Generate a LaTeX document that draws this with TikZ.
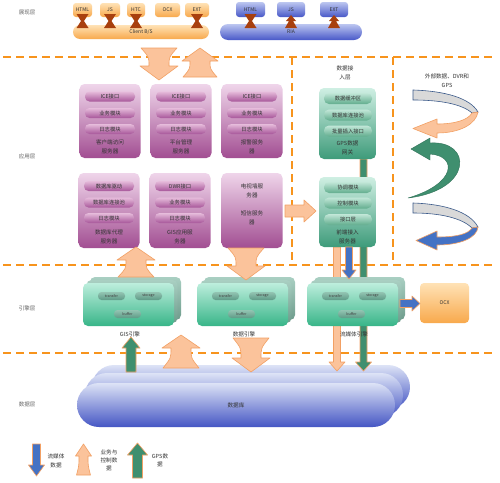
\documentclass[tikz,border=0pt]{standalone}
\usepackage{fontspec}
\setmainfont{Noto Sans CJK SC}
\usetikzlibrary{calc}
\definecolor{dashor}{HTML}{F7941D}
\definecolor{peach}{HTML}{FBC39B}
\definecolor{peachL}{HTML}{F2A064}
\definecolor{garrow}{HTML}{3F8F6F}
\definecolor{barrow}{HTML}{4472C4}
\definecolor{purT}{HTML}{EFD5EA}
\definecolor{purB}{HTML}{A24E92}
\definecolor{ppT}{HTML}{E6BCDB}
\definecolor{ppB}{HTML}{A8579A}
\definecolor{grT}{HTML}{CFEFE3}
\definecolor{grB}{HTML}{3E9B7A}
\definecolor{gpT}{HTML}{C2E7D8}
\definecolor{gpB}{HTML}{62AD8E}
\definecolor{enT}{HTML}{BDEEDD}
\definecolor{enB}{HTML}{38B588}
\definecolor{ebT}{HTML}{A9CFC2}
\definecolor{ebB}{HTML}{6E9C8C}
\definecolor{epT}{HTML}{93C4B2}
\definecolor{epB}{HTML}{5E9A86}
\definecolor{orT}{HTML}{FFE2B6}
\definecolor{orB}{HTML}{F8A94C}
\definecolor{blT}{HTML}{BCC6F0}
\definecolor{blB}{HTML}{4858C8}
\definecolor{dbT}{HTML}{DDE3F6}
\definecolor{dbB}{HTML}{4556C4}
\definecolor{brownC}{HTML}{A8400F}
\definecolor{grayR}{HTML}{D9D9D9}
\definecolor{grayL}{HTML}{3B5A8A}
\newcommand\vfat[6]{%
  \path[#1] let \p1=(#2), \p2=(#3), \n1={ifthenelse(\y2>\y1,1,-1)}, \n2={\y2-\n1*#6} in
  ({\x1-#4},\y1) -- ({\x1-#4},{\n2*1pt}) -- ({\x1-#5},{\n2*1pt}) -- (\x1,\y2)
  -- ({\x1+#5},{\n2*1pt}) -- ({\x1+#4},{\n2*1pt}) -- ({\x1+#4},\y1) -- cycle;}
\newcommand\vfir[6]{%
  \path[#1] let \p1=(#2), \p2=(#3), \n1={ifthenelse(\y2>\y1,1,-1)}, \n2={\y2-\n1*#6}, \n3={(\y1+\n2)/2} in
  ({\x1-#5+1},\y1) .. controls ({\x1-#4},{\n3*1pt}) .. ({\x1-#4},{\n2*1pt}) -- ({\x1-#5},{\n2*1pt}) -- (\x1,\y2)
  -- ({\x1+#5},{\n2*1pt}) -- ({\x1+#4},{\n2*1pt}) .. controls ({\x1+#4},{\n3*1pt}) .. ({\x1+#5-1},\y1) -- cycle;}
\newcommand\hfat[6]{%
  \path[#1] let \p1=(#2), \p2=(#3), \n1={ifthenelse(\x2>\x1,1,-1)}, \n2={\x2-\n1*#6} in
  (\x1,{\y1-#4}) -- ({\n2*1pt},{\y1-#4}) -- ({\n2*1pt},{\y1-#5}) -- (\x2,\y1)
  -- ({\n2*1pt},{\y1+#5}) -- ({\n2*1pt},{\y1+#4}) -- (\x1,{\y1+#4}) -- cycle;}
\newcommand\bowtiec[1]{%
  \fill[brownC, shift={(#1.south)}] (-6,-3) -- (6,-3) -- (1.5,4) -- (6,11) -- (-6,11) -- (-1.5,4) -- cycle;}
\newcommand\firup[1]{%
  \fill[brownC, shift={(#1.south)}] (0,-2) -- (5,4) -- (2,4) -- (6,11) -- (-6,11) -- (-2,4) -- (-5,4) -- cycle;}
\newcommand\engine[3]{%
  \node[engback] (#1b2) at ({#2+52.5},298.5) {};
  \node[engback] (#1b1) at ({#2+49},301.5) {};
  \node[engfront] (#1) at ({#2+45.5},304.5) {};
  \node[epill] (#1t) at ({#2+28.5},296) {transfer};
  \node[epill] (#1s) at ({#2+65.5},296) {storage};
  \node[epill] (#1u) at ({#2+44.5},314) {buffer};
  \node[txt] (#1l) at ({#2+47},334) {#3};}
\begin{document}
\begin{tikzpicture}[x=1pt,y=-1pt,
  every node/.style={inner sep=0pt, outer sep=0pt},
  lbl/.style={font=\fontsize{5.5}{7}\selectfont, text=black!60},
  txt/.style={font=\fontsize{5.6}{9}\selectfont, text=black!80, align=center},
  obox/.style={rounded corners=3pt, top color=orT, bottom color=orB, minimum height=14pt, font=\fontsize{5}{6}\selectfont, text=black!80},
  bbox/.style={rounded corners=3pt, top color=blT, bottom color=blB, minimum height=15pt, font=\fontsize{5}{6}\selectfont, text=black!80},
  pbox/.style={rounded corners=5pt, top color=purT, bottom color=purB, minimum width=61pt},
  ppill/.style={rounded corners=4.5pt, top color=ppT, bottom color=ppB, minimum width=50pt, minimum height=10pt, font=\fontsize{5.3}{6}\selectfont, text=black!80},
  gbox/.style={rounded corners=5pt, top color=grT, bottom color=grB, minimum width=57pt},
  gpill/.style={rounded corners=5pt, top color=gpT, bottom color=gpB, minimum width=48pt, minimum height=11pt, font=\fontsize{5.3}{6}\selectfont, text=black!80},
  engback/.style={rounded corners=5pt, top color=ebT, bottom color=ebB, minimum width=91pt, minimum height=43pt},
  engfront/.style={rounded corners=5pt, top color=enT, bottom color=enB, minimum width=91pt, minimum height=43pt},
  epill/.style={rounded corners=3.5pt, top color=epT, bottom color=epB, minimum width=27pt, minimum height=8pt, font=\fontsize{3.6}{4}\selectfont, text=black!75},
  dbl/.style={rounded corners=22pt, top color=dbT, bottom color=dbB, minimum height=44pt, minimum width=318pt},
  dashl/.style={draw=dashor, line width=2.8pt, dash pattern=on 7.5pt off 5.5pt},
  peachA/.style={fill=peach, draw=peachL, line width=0.6pt, line join=round},
  greenA/.style={fill=garrow, draw=peachL, line width=0.6pt, line join=round},
  blueA/.style={fill=barrow, draw=peachL, line width=0.6pt, line join=round}
]
\fill[white] (0,0) rectangle (500,482);
\useasboundingbox (0,0) rectangle (500,482);

% layer separators
\draw[dashl] (3,57) -- (497,57);
\draw[dashl] (3,265) -- (497,265);
\draw[dashl] (3,353) -- (497,353);
\draw[dashl] (292,57) -- (292,265);
\draw[dashl] (393,57) -- (393,265);

% layer labels
\node[lbl] (l1) at (27,13) {展现层};
\node[lbl] (l2) at (27,156) {应用层};
\node[lbl] (l3) at (27,308) {引擎层};
\node[lbl] (l4) at (27,404) {数据层};

% presentation layer
\node[obox, minimum width=19pt] (oh) at (82.5,10) {HTML};
\node[obox, minimum width=20pt] (oj) at (110,10) {JS};
\node[obox, minimum width=18pt] (ot) at (136,10) {HTC};
\node[obox, minimum width=25pt] (oo) at (167.5,10) {OCX};
\node[obox, minimum width=24pt] (oe) at (197,10) {EXT};
\node[obox, minimum width=136pt, rounded corners=7pt] (cb) at (141,32) {Client B/S};
\bowtiec{oh}\bowtiec{oj}\bowtiec{ot}\bowtiec{oe}

\node[bbox, minimum width=29pt] (bh) at (250.5,9.5) {HTML};
\node[bbox, minimum width=28pt] (bj) at (291,9.5) {JS};
\node[bbox, minimum width=28pt] (be) at (334,9.5) {EXT};
\node[bbox, minimum width=142pt, minimum height=16pt, rounded corners=8pt] (rb) at (291,32) {RIA};
\bowtiec{bh}\firup{bj}\firup{be}

% database
\node[dbl] (db3) at (251,387) {};
\node[dbl] (db2) at (244,395) {};
\node[dbl, font=\fontsize{5.6}{7}\selectfont, text=black!80] (db) at (236,405) {数据库};

% long thin arrows behind boxes
\coordinate (pa1) at (337,247);
\coordinate (pa2) at (337,371);
\coordinate (ga1) at (363.5,159);
\coordinate (ga2) at (363.5,371);
\vfat{peachA}{pa1}{pa2}{3.5}{8}{9}
\vfat{greenA}{ga1}{ga2}{3.5}{8}{9}

% application layer boxes
\node[pbox, minimum height=74pt] (p1) at (110,121) {};
\node[pbox, minimum height=74pt] (p2) at (181,121) {};
\node[pbox, minimum height=74pt] (p3) at (252,121) {};
\node[pbox, minimum height=75pt] (p4) at (109,210.5) {};
\node[pbox, minimum height=75pt] (p5) at (180,210.5) {};
\node[pbox, minimum height=75pt] (p6) at (252,210.5) {};

\node[ppill] (p1a) at (110,96.5) {ICE接口};
\node[ppill] (p1b) at (110,113) {业务模块};
\node[ppill] (p1c) at (110,129) {日志模块};
\node[txt] (p1t) at (110,146.5) {客户端访问\\服务器};
\node[ppill] (p2a) at (181,96.5) {ICE接口};
\node[ppill] (p2b) at (181,113) {业务模块};
\node[ppill] (p2c) at (181,129) {日志模块};
\node[txt] (p2t) at (181,146.5) {平台管理\\服务器};
\node[ppill] (p3a) at (252,96.5) {ICE接口};
\node[ppill] (p3b) at (252,113) {业务模块};
\node[ppill] (p3c) at (252,129) {日志模块};
\node[txt] (p3t) at (252,146.5) {报警服务\\器};
\node[ppill] (p4a) at (109,186) {数据库驱动};
\node[ppill] (p4b) at (109,202.5) {数据库连接池};
\node[ppill] (p4c) at (109,218) {日志模块};
\node[txt] (p4t) at (109,236.5) {数据库代理\\服务器};
\node[ppill] (p5a) at (180,186) {DWR接口};
\node[ppill] (p5b) at (180,202.5) {业务模块};
\node[ppill] (p5c) at (180,218) {日志模块};
\node[txt] (p5t) at (180,236.5) {GIS应用服\\务器};
\node[txt] (p6t) at (252,191) {电视墙服\\务器};
\node[txt] (p6u) at (252,217.5) {短信服务\\器};

% data access layer
\node[txt] (dal) at (345,73) {数据接\\入层};
\node[gbox, minimum height=71pt] (g1) at (347.5,123.5) {};
\node[gpill] (g1a) at (348,98.5) {数据缓冲区};
\node[gpill] (g1b) at (348,115) {数据库连接池};
\node[gpill] (g1c) at (348,131) {批量插入接口};
\node[txt] (g1t) at (347.5,148) {GPS数据\\网关};
\node[gbox, minimum height=70pt] (g2) at (347.5,212) {};
\node[gpill] (g2a) at (348,187.5) {协调模块};
\node[gpill] (g2b) at (348,203) {控制模块};
\node[gpill] (g2c) at (348,219.5) {接口层};
\node[txt] (g2t) at (347.5,237) {前端接入\\服务器};

% engines
\engine{e1}{83}{GIS引擎}
\engine{e2}{197}{数据引擎}
\engine{e3}{307}{流媒体引擎}
\node[obox, minimum width=49pt, minimum height=40pt, rounded corners=4pt] (ocx) at (444.5,303) {OCX};

% fat arrows between layers
\coordinate (a1s) at (159,48); \coordinate (a1e) at (159,80);
\vfir{peachA}{a1s}{a1e}{10}{19}{14}
\coordinate (a2s) at (200,77); \coordinate (a2e) at (200,48);
\vfir{peachA}{a2s}{a2e}{10}{18}{13}
\coordinate (a3s) at (136,277); \coordinate (a3e) at (136,247);
\vfir{peachA}{a3s}{a3e}{10}{19}{13}
\coordinate (a4s) at (246,248); \coordinate (a4e) at (246,280);
\vfir{peachA}{a4s}{a4e}{10}{19}{14}
\coordinate (a5s) at (131,372); \coordinate (a5e) at (131,337);
\vfat{greenA}{a5s}{a5e}{5}{9}{11}
\coordinate (a6s) at (181,368); \coordinate (a6e) at (181,335);
\vfir{peachA}{a6s}{a6e}{10}{19}{13}
\coordinate (a7s) at (251,338); \coordinate (a7e) at (251,372);
\vfir{peachA}{a7s}{a7e}{10}{19}{14}
\coordinate (a8s) at (285,211); \coordinate (a8e) at (316,211);
\hfat{peachA}{a8s}{a8e}{6}{11}{12}
\coordinate (bl1) at (349,247); \coordinate (bl2) at (349,279);
\vfat{blueA}{bl1}{bl2}{3.5}{7}{9}
\coordinate (bo1) at (400,303.5); \coordinate (bo2) at (420,303.5);
\hfat{blueA}{bo1}{bo2}{4}{7.5}{8}

% external data and curved arrows
\node[txt] (ext) at (447,80.5) {外部数据、DVR和\\GPS};
\path[fill=grayR, draw=grayL, line width=0.6pt] (413,90) .. controls (445,91) and (470,98) .. (478,112)
  -- (472,113) .. controls (462,104) and (440,100) .. (413,100) -- cycle;
\path[peachA] (472,113) .. controls (468,120) and (455,124) .. (437,124) -- (437,119) -- (413,128.5)
  -- (437,138) -- (437,133) .. controls (460,133) and (476,124) .. (478,112) -- cycle;
\path[fill=garrow, draw=garrow!80!black, line width=0.4pt] (430,143) .. controls (472,140) and (474,190) .. (408,198)
  .. controls (456,184) and (458,156) .. (430,154) -- (430,160) -- (411,149) -- (430,138) -- cycle;
\path[fill=grayR, draw=grayL, line width=0.6pt] (413,203) .. controls (445,204) and (470,212) .. (478,227)
  -- (472,228) .. controls (462,218) and (440,213) .. (413,213) -- cycle;
\path[blueA] (472,228) .. controls (468,234) and (457,237) .. (437,237) -- (437,231) -- (416,240.5)
  -- (437,250) -- (437,245) .. controls (460,245) and (477,238) .. (478,227) -- cycle;

% legend
\coordinate (lg1a) at (36.5,444); \coordinate (lg1b) at (36.5,476);
\vfat{blueA}{lg1a}{lg1b}{4}{8}{11}
\node[txt] (lg1t) at (56,460.5) {流媒体\\数据};
\coordinate (lg2a) at (83.5,475); \coordinate (lg2b) at (83.5,444);
\vfir{peachA}{lg2a}{lg2b}{4.5}{8}{12}
\node[txt, font=\fontsize{5.6}{8}\selectfont] (lg2t) at (109,460) {业务与\\控制数\\据};
\coordinate (lg3a) at (137.5,478); \coordinate (lg3b) at (137.5,443);
\vfat{greenA}{lg3a}{lg3b}{5}{10}{12}
\node[txt, font=\fontsize{5.6}{8}\selectfont] (lg3t) at (160,460) {GPS数\\据};
\end{tikzpicture}
\end{document}
